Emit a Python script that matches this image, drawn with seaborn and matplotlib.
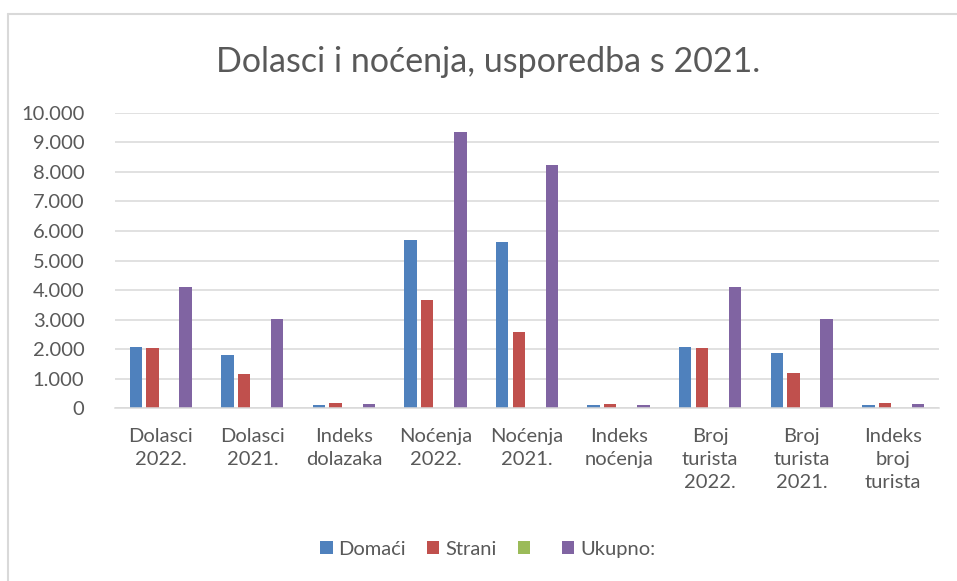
import pandas as pd
import numpy as np
import seaborn as sns
import matplotlib.pyplot as plt
from matplotlib.lines import Line2D
from matplotlib.ticker import FuncFormatter

categories = ['Dolasci 2022.', 'Dolasci 2021.', 'Indeks dolazaka', 'Noćenja 2022.',
              'Noćenja 2021.', 'Indeks noćenja', 'Broj turista 2022.',
              'Broj turista 2021.', 'Indeks broj turista']
tick_labels = ['Dolasci\n2022.', 'Dolasci\n2021.', 'Indeks\ndolazaka', 'Noćenja\n2022.',
               'Noćenja\n2021.', 'Indeks\nnoćenja', 'Broj\nturista\n2022.',
               'Broj\nturista\n2021.', 'Indeks\nbroj\nturista']
series = ['Domaći', 'Strani', ' ', 'Ukupno:']

domaci = [2065, 1810, 114, 5680, 5614, 101, 2063, 1860, 111]
strani = [2030, 1170, 173, 3650, 2595, 140, 2029, 1200, 169]
prazno = [0, 0, 0, 0, 0, 0, 0, 0, 0]
ukupno = [4095, 3020, 135, 9340, 8220, 114, 4092, 3020, 135]

colors = ['#4F81BD', '#C0504D', '#9BBB59', '#8064A2']
grey = '#595959'
grid = '#D9D9D9'

df = pd.DataFrame({
    'kategorija': categories * 4,
    'serija': np.repeat(series, len(categories)),
    'vrijednost': domaci + strani + prazno + ukupno,
})

sns.set_style('white')
plt.rcParams['font.family'] = ['Lato', 'DejaVu Sans']

fig = plt.figure(figsize=(9.57, 5.81), dpi=100)
ax = fig.add_axes([0.1202, 0.2972, 0.861, 0.5088])

sns.barplot(data=df, x='kategorija', y='vrijednost', hue='serija',
            order=categories, hue_order=series, palette=colors, saturation=1,
            width=0.725, gap=0.25, linewidth=0, ax=ax)

ax.set_ylim(0, 10000)
ax.set_yticks(np.arange(0, 10001, 1000))
ax.yaxis.set_major_formatter(FuncFormatter(lambda v, p: f'{int(v):,}'.replace(',', '.')))
ax.set_xticks(range(len(categories)))
ax.set_xticklabels(tick_labels, linespacing=1.45)
ax.tick_params(axis='both', length=0, labelsize=14.5, labelcolor=grey)
ax.tick_params(axis='y', pad=22)
ax.tick_params(axis='x', pad=14)
ax.set_xlabel('')
ax.set_ylabel('')
ax.set_axisbelow(True)
ax.grid(axis='y', color=grid, linewidth=1.1)
for s in ['top', 'right', 'left']:
    ax.spines[s].set_visible(False)
ax.spines['bottom'].set_color(grid)
ax.spines['bottom'].set_linewidth(1.1)
ax.set_xlim(-0.5, len(categories) - 0.5)

handles, labels = ax.get_legend_handles_labels()
ax.legend(handles, labels, loc='center', bbox_to_anchor=(0.51, 0.055),
          bbox_transform=fig.transFigure, ncol=4, frameon=False,
          handlelength=0.6, handleheight=0.6, handletextpad=0.3,
          columnspacing=1.05, fontsize=14.5, labelcolor=grey)

fig.text(0.51, 1 - 62 / 581, 'Dolasci i noćenja, usporedba s 2021.',
         ha='center', va='center', fontsize=24.5, color=grey)

# okvir grafikona
fig.add_artist(Line2D([8 / 957, 8 / 957], [0, 1 - 14 / 581], color=grid, lw=1.5))
fig.add_artist(Line2D([8 / 957, 1], [1 - 14 / 581, 1 - 14 / 581], color=grid, lw=1.5))

fig.savefig('out.png', dpi=100, facecolor='white')
